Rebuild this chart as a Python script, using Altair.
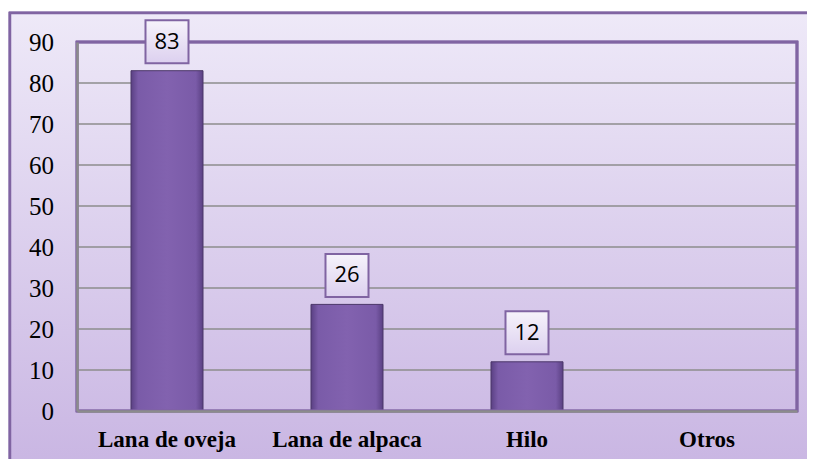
import altair as alt
import pandas as pd

categories = ["Lana de oveja", "Lana de alpaca", "Hilo", "Otros"]
values = [83, 26, 12, 0]
y_ticks = [0, 10, 20, 30, 40, 50, 60, 70, 80, 90]

df = pd.DataFrame({"cat": categories, "val": values})
shown = df[df["val"] > 0]
grid_df = pd.DataFrame({"g": y_ticks[1:-1]})
tick_df = pd.DataFrame({"t": y_ticks})

W, H = 720, 369
SERIF = "Liberation Serif"

x_scale = alt.Scale(domain=categories, paddingInner=0.6, paddingOuter=0.3)
y_scale = alt.Scale(domain=[0, 90])

x_axis = alt.Axis(labels=False, ticks=False, zindex=1, domainColor="#8C8C8C", domainWidth=2.5)
y_axis = alt.Axis(values=y_ticks, labels=False, ticks=False, grid=False, zindex=1,
                  domainColor="#8C8C8C", domainWidth=2.5)
x_enc = alt.X("cat:N", scale=x_scale, title=None, axis=x_axis)
y_enc = alt.Y("val:Q", scale=y_scale, title=None, axis=y_axis)

bg = alt.Chart(df).mark_rect(
    fill=alt.LinearGradient(gradient="linear", x1=0, x2=0, y1=0, y2=1,
                            stops=[alt.GradientStop(color="#EEE9F8", offset=0),
                                   alt.GradientStop(color="#C8B4E2", offset=1)]),
    stroke="#8064A2", strokeWidth=2.5
).encode(x=alt.value(-67), x2=alt.value(760), y=alt.value(-29), y2=alt.value(440))

grid = alt.Chart(grid_df).mark_rule(color="#8C8C8C", strokeWidth=1.5).encode(
    y=alt.Y("g:Q", scale=y_scale, title=None, axis=y_axis),
    x=alt.value(0), x2=alt.value(W))

bars = alt.Chart(shown).mark_bar(
    fill=alt.LinearGradient(gradient="linear", x1=0, x2=1, y1=0, y2=0,
                            stops=[alt.GradientStop(color="#5A4083", offset=0),
                                   alt.GradientStop(color="#7A5BA8", offset=0.1),
                                   alt.GradientStop(color="#8262AF", offset=0.5),
                                   alt.GradientStop(color="#7A5BA8", offset=0.9),
                                   alt.GradientStop(color="#5A4083", offset=1)]),
    stroke="#4A3668", strokeWidth=1
).encode(x=x_enc, y=y_enc)

boxes = alt.Chart(shown).mark_point(
    shape="square", size=1850, filled=True, opacity=1, yOffset=-29,
    fill=alt.LinearGradient(gradient="linear", x1=0, x2=0, y1=0, y2=1,
                            stops=[alt.GradientStop(color="#F6F3FB", offset=0),
                                   alt.GradientStop(color="#DCD0EF", offset=1)]),
    stroke="#8064A2", strokeWidth=2
).encode(x=x_enc, y=y_enc)

texts = alt.Chart(shown).mark_text(
    font="Open Sans", fontSize=22, color="#000000", baseline="middle", align="center", yOffset=-29
).encode(x=x_enc, y=y_enc, text="val:Q")

xlabels = alt.Chart(df).mark_text(
    font=SERIF, fontSize=23, fontWeight="bold", color="#000000",
    baseline="alphabetic", align="center"
).encode(x=x_enc, y=alt.value(H + 36), text="cat:N")

ylabels = alt.Chart(tick_df).mark_text(
    font=SERIF, fontSize=25, color="#000000", baseline="middle", align="right", dy=1
).encode(y=alt.Y("t:Q", scale=y_scale, title=None, axis=y_axis), x=alt.value(-23), text="t:Q")

border = alt.Chart(df).mark_rect(fillOpacity=0, stroke="#8064A2", strokeWidth=2.5).encode(
    x=alt.value(0), x2=alt.value(W), y=alt.value(0), y2=alt.value(H))

chart = alt.layer(bg, grid, bars, border, boxes, texts, xlabels, ylabels).properties(
    width=W, height=H,
    autosize=alt.AutoSizeParams(type="none"),
    padding={"left": 69, "top": 34, "right": 10, "bottom": 48},
    background="#FFFFFF"
).configure_view(stroke=None)

chart.save("out.html", embed_options={"renderer": "svg", "actions": False})
